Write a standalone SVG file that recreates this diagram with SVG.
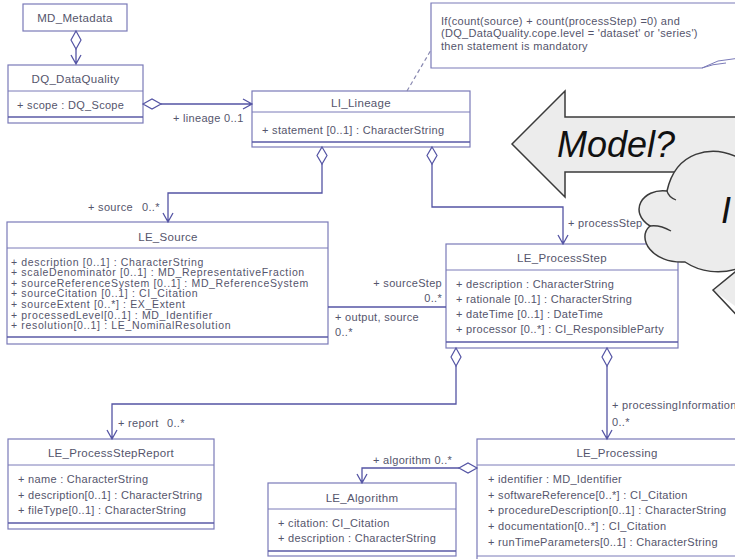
<svg xmlns="http://www.w3.org/2000/svg" width="735" height="559" viewBox="0 0 735 559">
<style>
.box{fill:#fff;stroke:#7a7ab8;stroke-width:1.2}
.sep{stroke:#7a7ab8;stroke-width:1;fill:none}
.ops{stroke:#5a5aa6;stroke-width:1.6;fill:none}
.t{font-family:"Liberation Sans",Arial,sans-serif;fill:#55556c}
.title{font-size:11.5px;text-anchor:middle;letter-spacing:0.3px}
.attr{font-size:11px;letter-spacing:0.3px}
.src{font-size:10.5px;letter-spacing:0.65px}
.conn{fill:none;stroke:#5454a4;stroke-width:1.3}
.dia{fill:#fff;stroke:#5454a4;stroke-width:1.2}
.big{font-family:"Liberation Sans",Arial,sans-serif;font-style:italic;font-size:36px;fill:#111}
.shape{fill:#ececec;stroke:#3a3a3a;stroke-width:1.5}
</style>
<rect width="735" height="559" fill="#fff"/>

<g id="n_md_metadata">
<rect class="box" x="23" y="4" width="104" height="27"/>
<text class="t title" x="75" y="22">MD_Metadata</text>
</g>

<g id="n_dq_dataquality">
<rect class="box" x="8" y="65" width="135" height="58"/>
<line class="sep" x1="8" y1="91" x2="143" y2="91"/>
<line class="ops" x1="8" y1="117" x2="143" y2="117"/>
<text class="t title" x="75.5" y="83">DQ_DataQuality</text>
<text class="t attr" x="17" y="109">+ scope : DQ_Scope</text>
</g>

<g id="n_li_lineage">
<rect class="box" x="252" y="91" width="218" height="56"/>
<line class="sep" x1="252" y1="112" x2="470" y2="112"/>
<line class="ops" x1="252" y1="142" x2="470" y2="142"/>
<text class="t title" x="361" y="107">LI_Lineage</text>
<text class="t attr" x="262" y="134">+ statement [0..1] : CharacterString</text>
</g>

<g id="n_le_source">
<rect class="box" x="7" y="222" width="321" height="122"/>
<line class="sep" x1="7" y1="248" x2="328" y2="248"/>
<line class="ops" x1="7" y1="337" x2="328" y2="337"/>
<text class="t title" x="168" y="241">LE_Source</text>
<text class="t src" x="11" y="265.5">+ description [0..1] : CharacterString</text>
<text class="t src" x="11" y="276.1">+ scaleDenominator [0..1] : MD_RepresentativeFraction</text>
<text class="t src" x="11" y="286.7">+ sourceReferenceSystem [0..1] : MD_ReferenceSystem</text>
<text class="t src" x="11" y="297.3">+ sourceCitation [0..1] : CI_Citation</text>
<text class="t src" x="11" y="307.9">+ sourceExtent [0..*] : EX_Extent</text>
<text class="t src" x="11" y="318.5">+ processedLevel[0..1] : MD_Identifier</text>
<text class="t src" x="11" y="329.1">+ resolution[0..1] : LE_NominalResolution</text>
</g>

<g id="n_le_processstep">
<rect class="box" x="446" y="244" width="232" height="104"/>
<line class="sep" x1="446" y1="270" x2="678" y2="270"/>
<line class="ops" x1="446" y1="342" x2="678" y2="342"/>
<text class="t title" x="562" y="262">LE_ProcessStep</text>
<text class="t attr" x="456" y="288">+ description : CharacterString</text>
<text class="t attr" x="456" y="303">+ rationale [0..1] : CharacterString</text>
<text class="t attr" x="456" y="318">+ dateTime [0..1] : DateTime</text>
<text class="t attr" x="456" y="333">+ processor [0..*] : CI_ResponsibleParty</text>
</g>

<g id="n_le_processstepreport">
<rect class="box" x="8" y="439" width="206" height="90"/>
<line class="sep" x1="8" y1="465" x2="214" y2="465"/>
<line class="ops" x1="8" y1="523" x2="214" y2="523"/>
<text class="t title" x="111" y="457">LE_ProcessStepReport</text>
<text class="t attr" x="18" y="483">+ name : CharacterString</text>
<text class="t attr" x="18" y="499">+ description[0..1] : CharacterString</text>
<text class="t attr" x="18" y="514">+ fileType[0..1] : CharacterString</text>
</g>

<g id="n_le_algorithm">
<rect class="box" x="268" y="483" width="188" height="73"/>
<line class="sep" x1="268" y1="509" x2="456" y2="509"/>
<line class="ops" x1="268" y1="551" x2="456" y2="551"/>
<text class="t title" x="362" y="502">LE_Algorithm</text>
<text class="t attr" x="278" y="527">+ citation: CI_Citation</text>
<text class="t attr" x="278" y="542">+ description : CharacterString</text>
</g>

<g id="n_le_processing">
<rect class="box" x="477" y="439" width="290" height="130"/>
<line class="sep" x1="477" y1="465" x2="767" y2="465"/>
<line class="sep" x1="477" y1="556" x2="767" y2="556"/>
<text class="t title" x="617" y="457">LE_Processing</text>
<text class="t attr" x="488" y="483">+ identifier : MD_Identifier</text>
<text class="t attr" x="488" y="499">+ softwareReference[0..*] : CI_Citation</text>
<text class="t attr" x="488" y="514">+ procedureDescription[0..1] : CharacterString</text>
<text class="t attr" x="488" y="530">+ documentation[0..*] : CI_Citation</text>
<text class="t attr" x="488" y="546">+ runTimeParameters[0..1] : CharacterString</text>
</g>

<g id="connectors">
<path class="conn" d="M76,49 L76,64 M71,55 L76,64 L81,55"/>
<polygon class="dia" points="76,31 81,40 76,49 71,40"/>
<path class="conn" d="M161,104 L252,104 M243,99 L252,104 L243,109"/>
<polygon class="dia" points="143,104 152,99 161,104 152,109"/>
<path class="conn" d="M322,164 L322,193 L168,193 L168,222 M163,213 L168,222 L173,213"/>
<polygon class="dia" points="322,147 327,155.5 322,164 317,155.5"/>
<path class="conn" d="M432,164 L432,207 L563,207 L563,244 M558,235 L563,244 L568,235"/>
<polygon class="dia" points="432,147 437,155.5 432,164 427,155.5"/>
<path class="conn" d="M328,307 L446,307"/>
<path class="conn" d="M456,366 L456,404 L112,404 L112,439 M107,430 L112,439 L117,430"/>
<polygon class="dia" points="456,348 461,357 456,366 451,357"/>
<path class="conn" d="M607,366 L607,439 M602,430 L607,439 L612,430"/>
<polygon class="dia" points="607,348 612,357 607,366 602,357"/>
<path class="conn" d="M459,468 L362,468 L362,483 M357,474 L362,483 L367,474"/>
<polygon class="dia" points="477,468 468,463 459,468 468,473"/>
<path d="M407,91 L431,50" fill="none" stroke="#8888b0" stroke-width="1.2" stroke-dasharray="4,3"/>
<text class="t attr" x="173" y="122">+ lineage 0..1</text>
<text class="t attr" x="88" y="211">+ source</text>
<text class="t attr" x="142" y="211">0..*</text>
<text class="t attr" x="568" y="227">+ processStep</text>
<text class="t attr" x="442" y="287" text-anchor="end">+ sourceStep</text>
<text class="t attr" x="442" y="302" text-anchor="end">0..*</text>
<text class="t attr" x="335" y="321">+ output, source</text>
<text class="t attr" x="335" y="336">0..*</text>
<text class="t attr" x="118" y="427">+ report</text>
<text class="t attr" x="167" y="427">0..*</text>
<text class="t attr" x="612" y="409">+ processingInformation</text>
<text class="t attr" x="612" y="426">0..*</text>
<text class="t attr" x="373" y="464">+ algorithm 0..*</text>
</g>

<g id="n_note">
<path d="M760,3 L431,3 L431,68 L702,68 L760,68 Z" fill="#fff" stroke="none"/>
<path d="M760,3 L431,3 L431,68 L702,68" fill="none" stroke="#7a7ab8" stroke-width="1.2"/>
<path d="M702,68 L718,61 L740,58 M702,68 Q712,64 726,63" fill="none" stroke="#7a7ab8" stroke-width="1"/>
<text class="t attr" x="441" y="24.5">If(count(source) + count(processStep) =0) and</text>
<text class="t attr" x="441" y="37">(DQ_DataQuality.cope.level = 'dataset' or 'series')</text>
<text class="t attr" x="441" y="49.5">then statement is mandatory</text>
</g>

<g id="n_model_arrow">
<path class="shape" d="M512,144 L565,91 L565,117 L760,117 L760,172 L565,172 L565,197 Z"/>
<text class="big" x="557" y="157">Model?</text>
</g>

<g id="n_cloud">
<path d="M760,158 L735,156 C712,146 676,150 667,191 C642,188 628,212 650,226 C636,238 652,264 685,262 C700,272 720,275 740,268 L713,290 L760,324 Z" fill="#ececec" stroke="none"/>
<path d="M740,157 L735,156 C712,146 676,150 667,191 C642,188 628,212 650,226 C636,238 652,264 685,262 C700,272 720,275 740,268" fill="none" stroke="#3a3a3a" stroke-width="1.5"/>
<path d="M740,268 L713,290 L745,324" fill="none" stroke="#3a3a3a" stroke-width="1.5"/>
<path d="M650,226 C657,225 664,227 671,231 M667,191 C668,195 671,198 676,200" fill="none" stroke="#3a3a3a" stroke-width="1.3"/>
<text class="big" x="721" y="223">I</text>
</g>
</svg>
